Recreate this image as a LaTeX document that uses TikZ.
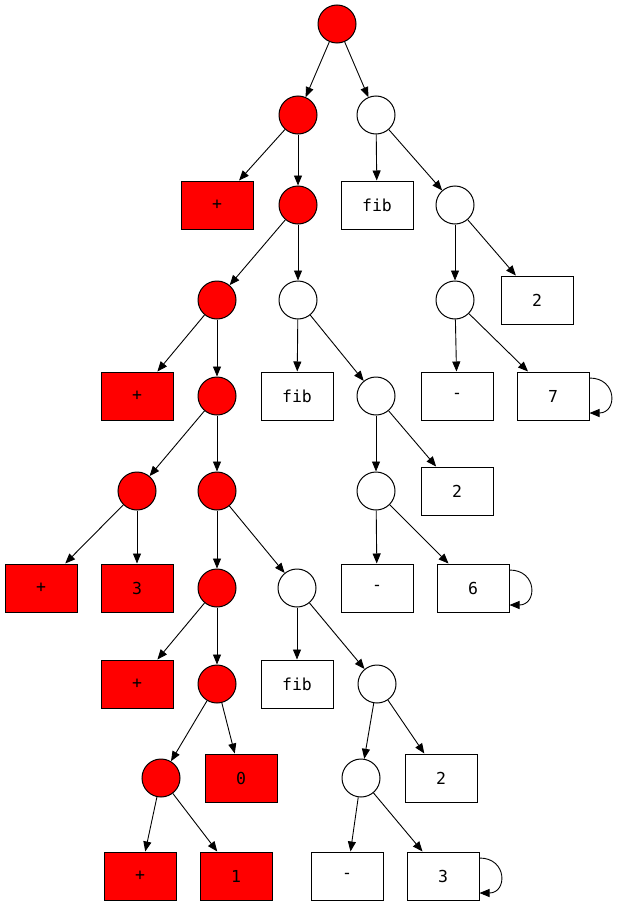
\documentclass[tikz,border=0pt]{standalone}
\usepackage{fontspec}
\setmonofont{DejaVu Sans Mono}
\usetikzlibrary{arrows.meta}
\begin{document}
\begin{tikzpicture}[x=1pt,y=-1pt,
  every node/.style={font=\ttfamily\fontsize{16.5}{18}\selectfont, draw=black, line width=1pt, inner sep=0pt},
  rc/.style={circle, minimum size=38pt, fill=red},
  wc/.style={circle, minimum size=38pt, fill=white},
  rb/.style={rectangle, minimum width=72pt, minimum height=48pt, fill=red},
  wb/.style={rectangle, minimum width=72pt, minimum height=48pt, fill=white},
  edge/.style={line width=0.9pt, -{Triangle[length=10pt,width=8pt]}},
  selfloop/.style={line width=0.9pt, -{Triangle[length=10pt,width=8pt]}}]
\useasboundingbox (0,0) rectangle (619,907);
% circles
\node[rc] (root) at (337,24) {};
\node[rc] (A) at (298,115) {};
\node[wc] (B) at (376,115) {};
\node[rc] (C) at (298,205) {};
\node[wc] (D) at (455,205) {};
\node[rc] (E) at (217,300) {};
\node[wc] (F) at (298,300) {};
\node[wc] (G) at (455,300) {};
\node[rc] (H) at (217,396) {};
\node[wc] (I) at (376,396) {};
\node[rc] (J) at (137,491) {};
\node[rc] (K) at (217,491) {};
\node[wc] (L) at (376,491) {};
\node[rc] (M) at (217,588) {};
\node[wc] (N) at (297,588) {};
\node[rc] (O) at (217,684) {};
\node[wc] (P) at (377,684) {};
\node[rc] (Q) at (161,778) {};
\node[wc] (R) at (361,778) {};
% boxes
\node[rb] (p1) at (217,205) {+};
\node[wb] (fib1) at (377,205) {fib};
\node[wb] (two1) at (537,300) {2};
\node[rb] (p2) at (137,396) {+};
\node[wb] (fib2) at (297,396) {fib};
\node[wb] (m1) at (457,396) {-};
\node[wb] (s7) at (553,396) {7};
\node[wb] (two2) at (457,491) {2};
\node[rb] (p3) at (41,588) {+};
\node[rb] (t3) at (137,588) {3};
\node[wb] (m2) at (377,588) {-};
\node[wb] (s6) at (473,588) {6};
\node[rb] (p4) at (137,684) {+};
\node[wb] (fib3) at (297,684) {fib};
\node[rb] (z0) at (241,778) {0};
\node[wb] (two3) at (441,778) {2};
\node[rb] (p5) at (140,876) {+};
\node[rb] (o1) at (236,876) {1};
\node[wb] (m3) at (347,876) {-};
\node[wb] (s3) at (443,876) {3};
% edges
\draw[edge] (root) -- (A);
\draw[edge] (root) -- (B);
\draw[edge] (A) -- (p1);
\draw[edge] (A) -- (C);
\draw[edge] (B) -- (fib1);
\draw[edge] (B) -- (D);
\draw[edge] (C) -- (E);
\draw[edge] (C) -- (F);
\draw[edge] (D) -- (G);
\draw[edge] (D) -- (two1);
\draw[edge] (E) -- (p2);
\draw[edge] (E) -- (H);
\draw[edge] (F) -- (fib2);
\draw[edge] (F) -- (I);
\draw[edge] (G) -- (m1);
\draw[edge] (G) -- (s7);
\draw[edge] (H) -- (J);
\draw[edge] (H) -- (K);
\draw[edge] (I) -- (L);
\draw[edge] (I) -- (two2);
\draw[edge] (J) -- (p3);
\draw[edge] (J) -- (t3);
\draw[edge] (K) -- (M);
\draw[edge] (K) -- (N);
\draw[edge] (L) -- (m2);
\draw[edge] (L) -- (s6);
\draw[edge] (M) -- (p4);
\draw[edge] (M) -- (O);
\draw[edge] (N) -- (fib3);
\draw[edge] (N) -- (P);
\draw[edge] (O) -- (Q);
\draw[edge] (O) -- (z0);
\draw[edge] (P) -- (R);
\draw[edge] (P) -- (two3);
\draw[edge] (Q) -- (p5);
\draw[edge] (Q) -- (o1);
\draw[edge] (R) -- (m3);
\draw[edge] (R) -- (s3);
% self loops
\foreach \n in {s7,s6,s3}{
  \draw[selfloop] ([yshift=18pt]\n.east) .. controls +(28,0) and +(28,0) .. ([yshift=-17pt]\n.east);
}
\end{tikzpicture}
\end{document}
